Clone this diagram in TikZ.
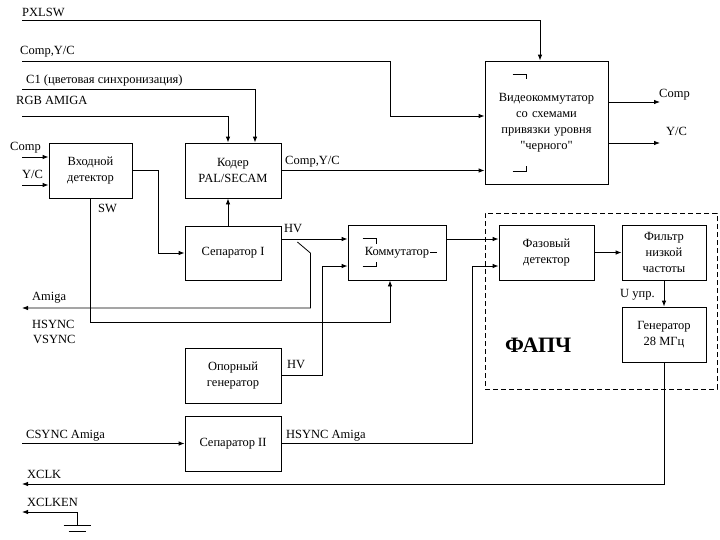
\documentclass[tikz,border=0pt]{standalone}
\usepackage{fontspec}
\setmainfont{Liberation Serif}
\newfontfamily\qfont{Liberation Serif}
\usetikzlibrary{arrows.meta,calc}

\begin{document}
\begin{tikzpicture}[
    x=1pt, y=-1pt,
    every node/.style={font=\fontsize{12.5}{16}\selectfont},
    box/.style={draw, line width=0.8pt, minimum width=96pt, minimum height=55pt,
                align=center, inner sep=2pt},
    arrow/.style={-{Latex[length=6pt,width=4.5pt]}, line width=0.8pt},
    lbl/.style={anchor=base west, inner sep=0pt},
    wire/.style={line width=0.8pt},
  ]
  \useasboundingbox (0,0) rectangle (720,539);
  % blocks
  \node[box, minimum width=83pt] (indet) at (90.5,170.5) {Входной\\детектор};
  \node[box] (coder) at (233,170.5) {Кодер\\PAL/SECAM};
  \node[box, minimum height=54pt] (sep1) at (233,253) {Сепаратор I};
  \node[box] (refgen) at (233,375.5) {Опорный\\генератор};
  \node[box] (sep2) at (233,443.5) {Сепаратор II};
  \node[box, minimum width=123pt, minimum height=123pt, text width=118pt] (vsw) at (546.5,122.5)
    {Видеокоммутатор\\со схемами\\привязки уровня\\{\qfont"}черного{\qfont"}};
  \node[box, minimum width=98pt] (comm) at (397,252.5) {Коммутатор};
  \node[draw, dashed, dash pattern=on 5pt off 3pt, line width=0.8pt,
        minimum width=232pt, minimum height=176pt] (pll) at (601,301) {};
  \node[box, minimum width=95pt] (phdet) at (546.5,252.5) {Фазовый\\детектор};
  \node[box, minimum width=84pt] (lpf) at (664,252.5) {Фильтр\\низкой\\частоты};
  \node[box, minimum width=84pt] (gen) at (664,334.5) {Генератор\\28 МГц};
  \node[lbl, font=\bfseries\fontsize{22}{24}\selectfont] (pllname) at (505,352) {ФАПЧ};
  % free ends
  \coordinate (pxlsw) at (22,20);
  \coordinate (compyc) at (22,61);
  \coordinate (cone) at (22,89);
  \coordinate (rgb) at (22,116);
  \coordinate (incomp) at (22,157);
  \coordinate (inyc) at (22,185);
  \coordinate (amiga) at (22,308);
  \coordinate (csync) at (22,443.5);
  \coordinate (xclk) at (22,484);
  \coordinate (xclken) at (22,512);
  \coordinate (gnd) at (77,525);
  \coordinate (outcomp) at (660,102);
  \coordinate (outyc) at (660,143);
  \coordinate (hv1) at ($(sep1.east)+(0,-14)$);
  % labels
  \node[lbl] (tpxlsw) at (22,16) {PXLSW};
  \node[lbl] (tcompyc) at (20,54) {Comp,Y/C};
  \node[lbl] (tcone) at (26,83) {C1 (цветовая синхронизация)};
  \node[lbl] (trgb) at (16,104) {RGB AMIGA};
  \node[lbl] (tincomp) at (10,150) {Comp};
  \node[lbl] (tinyc) at (22,178) {Y/C};
  \node[lbl] (tsw) at (98,212) {SW};
  \node[lbl] (tcoderout) at (285,164) {Comp,Y/C};
  \node[lbl] (thv1) at (284,232) {HV};
  \node[lbl] (thv2) at (287,368) {HV};
  \node[lbl] (tamiga) at (32,300) {Amiga};
  \node[lbl] (thsync) at (32,328) {HSYNC};
  \node[lbl] (tvsync) at (33,343) {VSYNC};
  \node[lbl] (tcsync) at (26,438) {CSYNC Amiga};
  \node[lbl] (thsynca) at (286,438) {HSYNC Amiga};
  \node[lbl] (txclk) at (27,478) {XCLK};
  \node[lbl] (txclken) at (27,506) {XCLKEN};
  \node[lbl] (toutcomp) at (659,97) {Comp};
  \node[lbl] (toutyc) at (666,135) {Y/C};
  \node[lbl] (tuctl) at (620,297) {U упр.};
  % small switch marks
  \draw[wire] ($(vsw.north west)+(28,14)$) -- ++(14,0) -- ++(0,4);
  \draw[wire] ($(vsw.south west)+(28,-13)$) -- ++(14,0) -- ++(0,-5);
  \draw[wire] ($(comm.north west)+(15,14)$) -- ++(14,0) -- ++(0,5);
  \draw[wire] ($(comm.south west)+(15,-14)$) -- ++(14,0) -- ++(0,-4);
  \draw[wire] ($(comm.center)+(33,0)$) -- ++(7,0);
  % connectors
  \draw[arrow] (pxlsw) -| ($(vsw.north)+(-6.5,0)$);
  \draw[arrow] (compyc) -- ++(368,0) |- ($(vsw.west)+(0,-6.5)$);
  \draw[arrow] (coder.east) -- (coder.east -| vsw.west);
  \draw[arrow] (cone) -| ($(coder.north)+(22,0)$);
  \draw[arrow] (rgb) -| ($(coder.north)+(-5,0)$);
  \draw[arrow] (incomp) -- (incomp -| indet.west);
  \draw[arrow] (inyc) -- (inyc -| indet.west);
  \draw[arrow] (indet.east) -- ++(26,0) |- (sep1.west);
  \draw[arrow] ($(sep1.north)+(-5,0)$) -- ($(coder.south)+(-5,0)$);
  \draw[arrow] (indet.south) -- ++(0,124) -| ($(comm.south)+(-7,0)$);
  \draw[arrow] (hv1) -- (hv1 -| comm.west);
  \draw[arrow] ($(hv1)+(16,3)$) -- ++(13,11) |- (amiga);
  \draw[arrow] (refgen.east) -- ++(41,0) |- ($(comm.west)+(0,13.5)$);
  \draw[arrow] (hv1 -| comm.east) -- (hv1 -| phdet.west);
  \draw[arrow] (csync) -- (csync -| sep2.west);
  \draw[arrow] (sep2.east) -- ++(191,0) |- ($(phdet.west)+(0,13.5)$);
  \draw[arrow] (phdet) -- (lpf);
  \draw[arrow] (lpf) -- (gen);
  \draw[arrow] (gen.south) |- (xclk);
  \draw[arrow] (gnd) |- (xclken);
  \draw[wire] ($(gnd)+(-13.5,0)$) -- ++(27,0);
  \draw[wire] ($(gnd)+(-8.5,6)$) -- ++(17,0);
  \draw[arrow] (vsw.east |- outcomp) -- (outcomp);
  \draw[arrow] (vsw.east |- outyc) -- (outyc);
\end{tikzpicture}
\end{document}
